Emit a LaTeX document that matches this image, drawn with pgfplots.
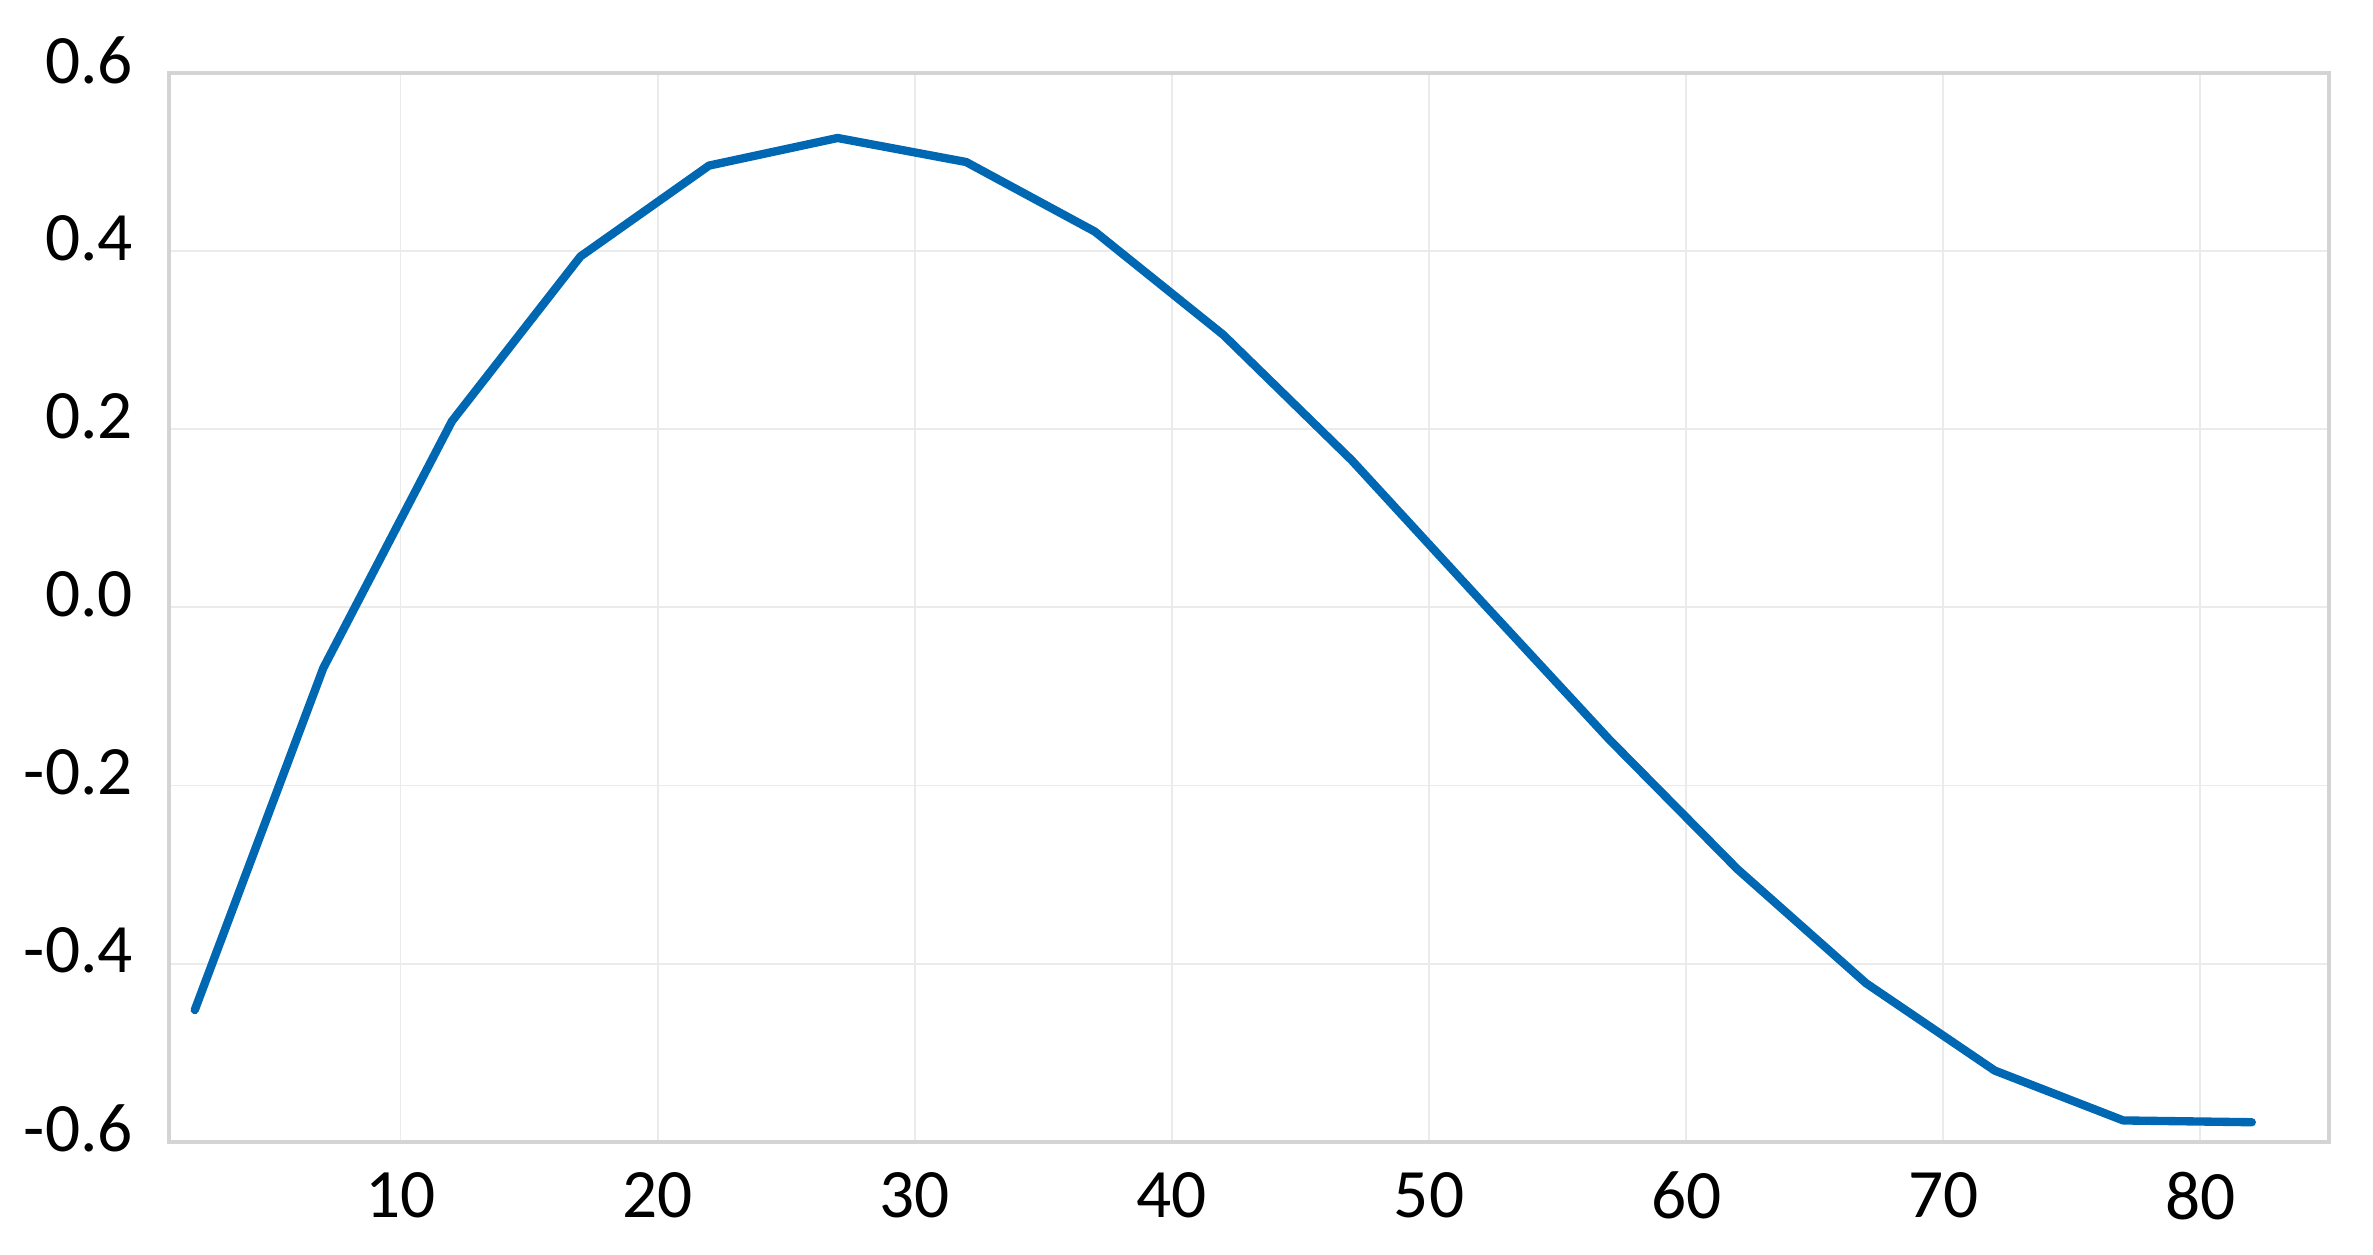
\documentclass[border=0pt]{standalone}
\usepackage{pgfplots}
\pgfplotsset{compat=1.18}
\usepackage{fontspec}
\setmainfont{Carlito}

\definecolor{lineblue}{HTML}{0068B3}
\definecolor{gridgray}{HTML}{EBEBEB}
\definecolor{framegray}{HTML}{D4D4D4}

\begin{document}
\begin{tikzpicture}
    \begin{axis}[
        scale only axis,
        width=14.565cm,
        height=7.208cm,
        xmin=1, xmax=85,
        ymin=-0.6, ymax=0.6,
        xtick={10,20,30,40,50,60,70,80},
        ytick={-0.6,-0.4,-0.2,0,0.2,0.4,0.6},
        yticklabels={-0.6,-0.4,-0.2,0.0,0.2,0.4,0.6},
        major tick length=0pt,
        grid=major,
        grid style={gridgray, line width=0.35pt},
        axis line style={framegray, line width=0.65pt},
        tick label style={font=\fontsize{13.3}{15}\selectfont, text=black},
        /pgf/number format/assume math mode=true,
        yticklabel style={xshift=-0.12cm, yshift=2.5pt},
        xticklabel style={yshift=-0.08cm},
        clip=false,
    ]
    \addplot[lineblue, line width=1.6pt, line cap=round, line join=round] coordinates {
        (2,-0.452)
        (7,-0.068)
        (12,0.209)
        (17,0.394)
        (22,0.496)
        (27,0.527)
        (32,0.500)
        (37,0.422)
        (42,0.306)
        (47,0.165)
        (52,0.008)
        (57,-0.148)
        (62,-0.294)
        (67,-0.422)
        (72,-0.520)
        (77,-0.576)
        (82,-0.578)
    };
    \end{axis}
    \path ([xshift=-1.14cm,yshift=-0.762cm]current axis.south west)
        rectangle ([xshift=0.297cm,yshift=0.492cm]current axis.north east);
\end{tikzpicture}
\end{document}
